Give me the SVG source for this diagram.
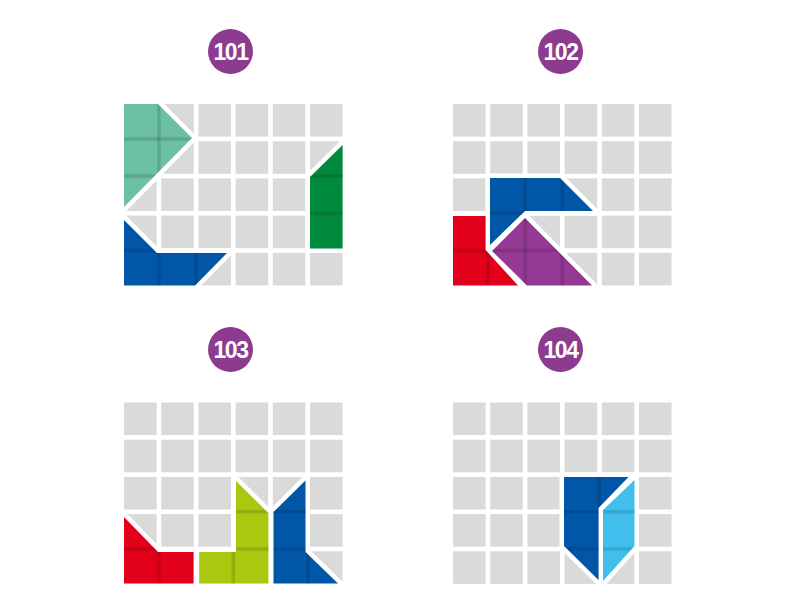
<svg xmlns="http://www.w3.org/2000/svg" xmlns:xlink="http://www.w3.org/1999/xlink" width="794" height="614" viewBox="0 0 794 614">
<style>
.cell{fill:#dadada}
.out{fill:none;stroke:#fff;stroke-width:9;stroke-linejoin:miter}
.gl line{stroke:#000;stroke-opacity:0.13;stroke-width:3.5}
.badge circle{fill:#8c3b8f}
.badge text{fill:#fff;font-family:"Liberation Sans",Arial,sans-serif;font-weight:bold;font-size:23px;letter-spacing:-1.5px;text-anchor:middle}
</style>
<defs>
<g id="grid">
<rect class="cell" x="0" y="0" width="32.6" height="32.6"/><rect class="cell" x="37.2" y="0" width="32.6" height="32.6"/><rect class="cell" x="74.4" y="0" width="32.6" height="32.6"/><rect class="cell" x="111.6" y="0" width="32.6" height="32.6"/><rect class="cell" x="148.8" y="0" width="32.6" height="32.6"/><rect class="cell" x="186" y="0" width="32.6" height="32.6"/>
<rect class="cell" x="0" y="37.2" width="32.6" height="32.6"/><rect class="cell" x="37.2" y="37.2" width="32.6" height="32.6"/><rect class="cell" x="74.4" y="37.2" width="32.6" height="32.6"/><rect class="cell" x="111.6" y="37.2" width="32.6" height="32.6"/><rect class="cell" x="148.8" y="37.2" width="32.6" height="32.6"/><rect class="cell" x="186" y="37.2" width="32.6" height="32.6"/>
<rect class="cell" x="0" y="74.4" width="32.6" height="32.6"/><rect class="cell" x="37.2" y="74.4" width="32.6" height="32.6"/><rect class="cell" x="74.4" y="74.4" width="32.6" height="32.6"/><rect class="cell" x="111.6" y="74.4" width="32.6" height="32.6"/><rect class="cell" x="148.8" y="74.4" width="32.6" height="32.6"/><rect class="cell" x="186" y="74.4" width="32.6" height="32.6"/>
<rect class="cell" x="0" y="111.6" width="32.6" height="32.6"/><rect class="cell" x="37.2" y="111.6" width="32.6" height="32.6"/><rect class="cell" x="74.4" y="111.6" width="32.6" height="32.6"/><rect class="cell" x="111.6" y="111.6" width="32.6" height="32.6"/><rect class="cell" x="148.8" y="111.6" width="32.6" height="32.6"/><rect class="cell" x="186" y="111.6" width="32.6" height="32.6"/>
<rect class="cell" x="0" y="148.8" width="32.6" height="32.6"/><rect class="cell" x="37.2" y="148.8" width="32.6" height="32.6"/><rect class="cell" x="74.4" y="148.8" width="32.6" height="32.6"/><rect class="cell" x="111.6" y="148.8" width="32.6" height="32.6"/><rect class="cell" x="148.8" y="148.8" width="32.6" height="32.6"/><rect class="cell" x="186" y="148.8" width="32.6" height="32.6"/>
</g>
<g id="gl" class="gl">
<line x1="34.9" y1="0" x2="34.9" y2="182"/><line x1="72.1" y1="0" x2="72.1" y2="182"/><line x1="109.3" y1="0" x2="109.3" y2="182"/><line x1="146.5" y1="0" x2="146.5" y2="182"/><line x1="183.7" y1="0" x2="183.7" y2="182"/>
<line x1="0" y1="34.9" x2="219" y2="34.9"/><line x1="0" y1="72.1" x2="219" y2="72.1"/><line x1="0" y1="109.3" x2="219" y2="109.3"/><line x1="0" y1="146.5" x2="219" y2="146.5"/>
</g>
<clipPath id="c1a"><polygon points="124,104 158,104 192,138 124,207"/></clipPath>
<clipPath id="c1b"><polygon points="310,177 342.6,145 342.6,248.4 310,248.4"/></clipPath>
<clipPath id="c1c"><polygon points="124,220 157,253 227,253 195,285.4 124,285.4"/></clipPath>
<clipPath id="c2a"><polygon points="490,178 560,178 593,211 525,211 490,245"/></clipPath>
<clipPath id="c2b"><polygon points="453,216 485.6,216 485.6,250 518,285.4 453,285.4"/></clipPath>
<clipPath id="c2c"><polygon points="525,218 592,285.4 527,285.4 492,251"/></clipPath>
<clipPath id="c3a"><polygon points="124,517 158,552 193.6,552 193.6,583.5 124,583.5"/></clipPath>
<clipPath id="c3b"><polygon points="199.2,583.5 199.2,552 236,552 236,481 268.4,513 268.4,583.5"/></clipPath>
<clipPath id="c3c"><polygon points="273.5,512 305.5,480.5 305.5,552 338,583.5 273.5,583.5"/></clipPath>
<clipPath id="c4a"><polygon points="564,477 628.5,477 598.5,508 598.5,580 564,546"/></clipPath>
<clipPath id="c4b"><polygon points="603,510 634.5,480 634.5,546 603,581"/></clipPath>
</defs>
<rect width="794" height="614" fill="#fff"/>

<g id="badge-101" class="badge"><circle cx="230.5" cy="51.5" r="22.5"/><text x="230.5" y="59.7">101</text></g>
<g id="badge-102" class="badge"><circle cx="560.5" cy="51.5" r="22.5"/><text x="560.5" y="59.7">102</text></g>
<g id="badge-103" class="badge"><circle cx="230.5" cy="349.5" r="22.5"/><text x="230.5" y="357.7">103</text></g>
<g id="badge-104" class="badge"><circle cx="560.5" cy="349.5" r="22.5"/><text x="560.5" y="357.7">104</text></g>

<g id="panel-101">
<use href="#grid" x="124" y="104"/>
<polygon class="out" points="124,104 158,104 192,138 124,207"/>
<polygon class="out" points="310,177 342.6,145 342.6,248.4 310,248.4"/>
<polygon class="out" points="124,220 157,253 227,253 195,285.4 124,285.4"/>
<polygon points="124,104 158,104 192,138 124,207" fill="#6cc0a5"/>
<g clip-path="url(#c1a)"><use href="#gl" x="124" y="104"/></g>
<polygon points="310,177 342.6,145 342.6,248.4 310,248.4" fill="#008a3e"/>
<g clip-path="url(#c1b)"><use href="#gl" x="124" y="104"/></g>
<polygon points="124,220 157,253 227,253 195,285.4 124,285.4" fill="#0057a8"/>
<g clip-path="url(#c1c)"><use href="#gl" x="124" y="104"/></g>
</g>

<g id="panel-102">
<use href="#grid" x="453" y="104"/>
<polygon class="out" points="490,178 560,178 593,211 525,211 490,245"/>
<polygon class="out" points="453,216 485.6,216 485.6,250 518,285.4 453,285.4"/>
<polygon class="out" points="525,218 592,285.4 527,285.4 492,251"/>
<polygon points="490,178 560,178 593,211 525,211 490,245" fill="#0057a8"/>
<g clip-path="url(#c2a)"><use href="#gl" x="453" y="104"/></g>
<polygon points="453,216 485.6,216 485.6,250 518,285.4 453,285.4" fill="#e2001a"/>
<g clip-path="url(#c2b)"><use href="#gl" x="453" y="104"/></g>
<polygon points="525,218 592,285.4 527,285.4 492,251" fill="#953a94"/>
<g clip-path="url(#c2c)"><use href="#gl" x="453" y="104"/></g>
</g>

<g id="panel-103">
<use href="#grid" x="124" y="402.5"/>
<polygon class="out" points="124,517 158,552 193.6,552 193.6,583.5 124,583.5"/>
<polygon class="out" points="199.2,583.5 199.2,552 236,552 236,481 268.4,513 268.4,583.5"/>
<polygon class="out" points="273.5,512 305.5,480.5 305.5,552 338,583.5 273.5,583.5"/>
<polygon points="124,517 158,552 193.6,552 193.6,583.5 124,583.5" fill="#e2001a"/>
<g clip-path="url(#c3a)"><use href="#gl" x="124" y="402.5"/></g>
<polygon points="199.2,583.5 199.2,552 236,552 236,481 268.4,513 268.4,583.5" fill="#a9c80f"/>
<g clip-path="url(#c3b)"><use href="#gl" x="124" y="402.5"/></g>
<polygon points="273.5,512 305.5,480.5 305.5,552 338,583.5 273.5,583.5" fill="#0057a8"/>
<g clip-path="url(#c3c)"><use href="#gl" x="124" y="402.5"/></g>
</g>

<g id="panel-104">
<use href="#grid" x="453" y="402.5"/>
<polygon class="out" points="564,477 628.5,477 598.5,508 598.5,580 564,546"/>
<polygon class="out" points="603,510 634.5,480 634.5,546 603,581"/>
<polygon points="564,477 628.5,477 598.5,508 598.5,580 564,546" fill="#0057a8"/>
<g clip-path="url(#c4a)"><use href="#gl" x="453" y="402.5"/></g>
<polygon points="603,510 634.5,480 634.5,546 603,581" fill="#41bfec"/>
<g clip-path="url(#c4b)"><use href="#gl" x="453" y="402.5"/></g>
</g>
</svg>
